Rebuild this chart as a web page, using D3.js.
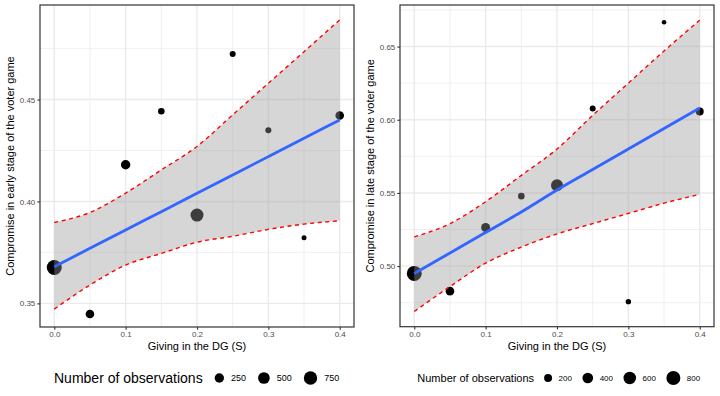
<!DOCTYPE html>
<html>
<head>
<meta charset="utf-8">
<script src="https://cdn.jsdelivr.net/npm/d3@7"></script>
<style>
  body { margin: 0; background: #fff; }
  svg text { font-family: "Liberation Sans", Arial, Helvetica, sans-serif; }
</style>
</head>
<body>
<div id="chart"></div>
<script>
// giving in the DG (S), same for both panels
var giving = [0, 0.05, 0.1, 0.15, 0.2, 0.25, 0.3, 0.35, 0.4];
var xTicks = [0, 0.1, 0.2, 0.3, 0.4];

// early stage of the voter game
var earlyComp  = [0.3676, 0.3448, 0.4180, 0.4443, 0.3933, 0.4724, 0.4350, 0.3822, 0.4422];
var earlyObs   = [1038, 188, 250, 86, 686, 71, 71, 61, 188];
var earlyFit   = [0.368, 0.377, 0.386, 0.395, 0.404, 0.413, 0.422, 0.431, 0.440];
var earlyUpper = [0.3897, 0.3946, 0.4041, 0.4155, 0.4270, 0.4425, 0.4580, 0.4735, 0.4891];
var earlyLower = [0.3472, 0.3590, 0.3688, 0.3745, 0.3800, 0.3829, 0.3863, 0.3889, 0.3905];
var earlyYTicks = [0.35, 0.40, 0.45];
var earlyLegend = [250, 500, 750];

// late stage of the voter game
var lateComp  = [0.4950, 0.4829, 0.5264, 0.5478, 0.5552, 0.6077, 0.4757, 0.6666, 0.6057];
var lateObs   = [955, 235, 261, 141, 537, 125, 115, 110, 200];
var lateFit   = [0.495, 0.509, 0.523, 0.537, 0.552, 0.566, 0.580, 0.594, 0.608];
var lateUpper = [0.520, 0.529, 0.544, 0.562, 0.580, 0.603, 0.625, 0.647, 0.668];
var lateLower = [0.469, 0.486, 0.502, 0.513, 0.522, 0.529, 0.536, 0.543, 0.549];
var lateYTicks = [0.50, 0.55, 0.60, 0.65];
var lateLegend = [200, 400, 600, 800];

var width = 720, height = 396;

var svg = d3.select("#chart").append("svg")
	.attr("width", width)
	.attr("height", height);

svg.append("rect").attr("width", width).attr("height", height).attr("fill", "#fff");

// one ggplot-like panel
function drawPanel(p) {
	var g = svg.append("g");

	var x = d3.scaleLinear().domain([-0.02, 0.42]).range([p.left, p.right]);
	var y = d3.scaleLinear().domain(p.yDomain).range([p.bottom, p.top]);
	var r = d3.scaleSqrt().domain([0, p.nMax - p.nMin]).range(p.rRange).clamp(true);
	var rad = function(n) { return r(n - p.nMin); };

	// minor grid between (and just outside) the major ticks
	function minors(ticks, dom) {
		var step = ticks[1] - ticks[0], out = [];
		for (var i = -1; i < ticks.length; i++) {
			var v = ticks[0] + step * (i + 0.5);
			if (v > dom[0] && v < dom[1]) out.push(v);
		}
		return out;
	}
	var xMinor = minors(xTicks, x.domain()),
		yMinor = minors(p.yTicks, p.yDomain);

	g.selectAll(".xminor").data(xMinor).enter().append("line")
		.attr("x1", x).attr("x2", x).attr("y1", p.top).attr("y2", p.bottom)
		.attr("stroke", "#ebebeb").attr("stroke-width", 0.7);
	g.selectAll(".yminor").data(yMinor).enter().append("line")
		.attr("x1", p.left).attr("x2", p.right).attr("y1", y).attr("y2", y)
		.attr("stroke", "#ebebeb").attr("stroke-width", 0.7);
	g.selectAll(".xmajor").data(xTicks).enter().append("line")
		.attr("x1", x).attr("x2", x).attr("y1", p.top).attr("y2", p.bottom)
		.attr("stroke", "#ebebeb").attr("stroke-width", 1.4);
	g.selectAll(".ymajor").data(p.yTicks).enter().append("line")
		.attr("x1", p.left).attr("x2", p.right).attr("y1", y).attr("y2", y)
		.attr("stroke", "#ebebeb").attr("stroke-width", 1.4);

	// points (drawn below the ribbon)
	g.selectAll(".pt").data(giving).enter().append("circle")
		.attr("cx", function(d) { return x(d); })
		.attr("cy", function(d, i) { return y(p.comp[i]); })
		.attr("r", function(d, i) { return rad(p.obs[i]); })
		.attr("fill", "#000");

	// confidence ribbon
	var area = d3.area()
		.x(function(d) { return x(d); })
		.y0(function(d, i) { return y(p.lower[i]); })
		.y1(function(d, i) { return y(p.upper[i]); })
		.curve(d3.curveMonotoneX);
	g.append("path").datum(giving).attr("d", area)
		.attr("fill", "#999999").attr("fill-opacity", 0.4);

	// fitted line
	var line = function(vals) {
		return d3.line()
			.x(function(d) { return x(d); })
			.y(function(d, i) { return y(vals[i]); })
			.curve(d3.curveMonotoneX);
	};
	g.append("path").datum(giving).attr("d", line(p.fit))
		.attr("fill", "none").attr("stroke", "#3366ff").attr("stroke-width", 2.8);

	// dashed bounds
	[p.upper, p.lower].forEach(function(vals) {
		g.append("path").datum(giving).attr("d", line(vals))
			.attr("fill", "none").attr("stroke", "#ff0000")
			.attr("stroke-width", 1.4).attr("stroke-dasharray", "4,3.6");
	});

	// border
	g.append("rect")
		.attr("x", p.left).attr("y", p.top)
		.attr("width", p.right - p.left).attr("height", p.bottom - p.top)
		.attr("fill", "none").attr("stroke", "#333333").attr("stroke-width", 1.2);

	// axes
	var xAxis = d3.axisBottom(x).tickValues(xTicks).tickFormat(d3.format(".1f"))
		.tickSizeInner(2.7).tickSizeOuter(0).tickPadding(2);
	var ax = g.append("g").attr("transform", "translate(0," + p.bottom + ")").call(xAxis);
	var yAxis = d3.axisLeft(y).tickValues(p.yTicks).tickFormat(d3.format(".2f"))
		.tickSizeInner(2.7).tickSizeOuter(0).tickPadding(2);
	var ay = g.append("g").attr("transform", "translate(" + p.left + ",0)").call(yAxis);
	[ax, ay].forEach(function(a) {
		a.select(".domain").remove();
		a.selectAll(".tick line").attr("stroke", "#333333").attr("stroke-width", 1.1);
		a.selectAll(".tick text").attr("fill", "#4d4d4d").attr("font-size", 8)
			.style("font-family", "'Liberation Sans', Arial, sans-serif");
	});

	// axis titles
	g.append("text")
		.attr("x", (p.left + p.right) / 2).attr("y", 350)
		.attr("text-anchor", "middle").attr("font-size", 11).attr("fill", "#000")
		.text("Giving in the DG (S)");
	g.append("text")
		.attr("transform", "translate(" + (p.left - 26) + "," + ((p.top + p.bottom) / 2) + ") rotate(-90)")
		.attr("text-anchor", "middle").attr("font-size", 11).attr("fill", "#000")
		.text(p.yTitle);

	// size legend
	var ly = 378;
	var title = g.append("text")
		.attr("x", p.legendX).attr("y", ly + p.titleSize * 0.36)
		.attr("font-size", p.titleSize).attr("fill", "#000")
		.text("Number of observations");
	var cur = p.legendX + title.node().getComputedTextLength() + p.titleGap;
	p.legend.forEach(function(n) {
		var rr = rad(n);
		var cx = cur + rr;
		g.append("circle").attr("cx", cx).attr("cy", ly).attr("r", rr).attr("fill", "#000");
		var t = g.append("text")
			.attr("x", cx + rr + p.labelGap).attr("y", ly + p.labelSize * 0.36)
			.attr("font-size", p.labelSize).attr("fill", "#000")
			.text(n);
		cur = cx + rr + p.labelGap + t.node().getComputedTextLength() + p.keyGap;
	});
}

drawPanel({
	left: 40, right: 354, top: 5, bottom: 327,
	yDomain: [0.3384, 0.4964], yTicks: earlyYTicks,
	comp: earlyComp, obs: earlyObs, fit: earlyFit, upper: earlyUpper, lower: earlyLower,
	nMin: 61, nMax: 1038, rRange: [2.5, 7.5],
	yTitle: "Compromise in early stage of the voter game",
	legend: earlyLegend, legendX: 54, titleSize: 14, labelSize: 9,
	titleGap: 12, labelGap: 7, keyGap: 12
});

drawPanel({
	left: 400, right: 714, top: 5, bottom: 326.7,
	yDomain: [0.4586, 0.6784], yTicks: lateYTicks,
	comp: lateComp, obs: lateObs, fit: lateFit, upper: lateUpper, lower: lateLower,
	nMin: 110, nMax: 955, rRange: [2.3, 7.5],
	yTitle: "Compromise in late stage of the voter game",
	legend: lateLegend, legendX: 417.3, titleSize: 11, labelSize: 8,
	titleGap: 10, labelGap: 6.5, keyGap: 10.5
});
</script>
</body>
</html>
